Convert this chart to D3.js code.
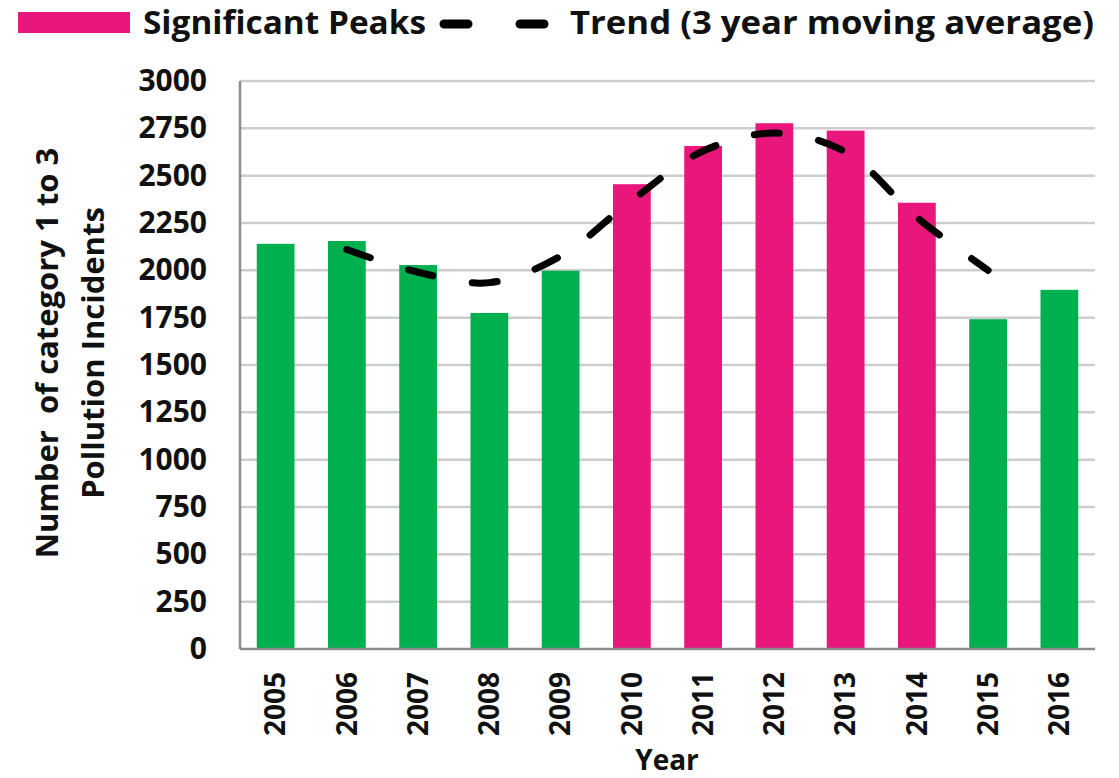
<!DOCTYPE html>
<html>
<head>
<meta charset="utf-8">
<script src="https://cdn.jsdelivr.net/npm/d3@7"></script>
<style>
  body { margin: 0; background: #fff; }
  text { font-family: "Open Sans", Lato, sans-serif; font-weight: bold; fill: #111; }
</style>
</head>
<body>
<div id="chart"></div>
<script>
// data
const years = ["2005", "2006", "2007", "2008", "2009", "2010", "2011", "2012", "2013", "2014", "2015", "2016"];
const incidents = [2140, 2155, 2028, 1775, 1998, 2455, 2657, 2777, 2738, 2357, 1742, 1897];
const peakYears = ["2010", "2011", "2012", "2013", "2014"];
const trendYears = ["2006", "2007", "2008", "2009", "2010", "2011", "2012", "2013", "2014", "2015"];
const trendValues = [2110, 1990, 1935, 2075, 2370, 2630, 2725, 2625, 2280, 2000];
const yTicks = [0, 250, 500, 750, 1000, 1250, 1500, 1750, 2000, 2250, 2500, 2750, 3000];

const svgWidth = 1119, svgHeight = 778;
const marginLeft = 240, marginRight = 24, marginTop = 81, marginBottom = 129;
const width = svgWidth - marginLeft - marginRight;
const height = svgHeight - marginTop - marginBottom;

const green = "#00b04f";
const pink = "#e9177b";
const font = "'Open Sans', Lato, sans-serif";

const svg = d3.select("#chart")
  .append("svg")
  .attr("width", svgWidth)
  .attr("height", svgHeight);

// Scales
const xScale = d3.scaleBand().domain(years).range([0, width]).paddingInner(0.47).paddingOuter(0.235);
const yScale = d3.scaleLinear().domain([0, 3000]).range([height, 0]);

const chart = svg.append("g")
  .attr("transform", `translate(${marginLeft},${marginTop})`);

// gridlines
chart.append("g")
  .selectAll("line")
  .data(yTicks.filter((d) => d > 0))
  .join("line")
  .attr("x1", 0)
  .attr("x2", width)
  .attr("y1", (d) => yScale(d))
  .attr("y2", (d) => yScale(d))
  .attr("stroke", "#cdcdcd")
  .attr("stroke-width", 2.5);

// bars
chart.append("g")
  .selectAll("rect")
  .data(years)
  .join("rect")
  .attr("x", (d) => xScale(d))
  .attr("width", xScale.bandwidth())
  .attr("y", (d, i) => yScale(incidents[i]))
  .attr("height", (d, i) => height - yScale(incidents[i]))
  .attr("fill", (d) => peakYears.includes(d) ? pink : green);

// axes lines
chart.append("line")
  .attr("x1", 0).attr("x2", 0)
  .attr("y1", 0).attr("y2", height)
  .attr("stroke", "#8c8c8c").attr("stroke-width", 2.5);
chart.append("line")
  .attr("x1", 0).attr("x2", width)
  .attr("y1", height).attr("y2", height)
  .attr("stroke", "#8c8c8c").attr("stroke-width", 2.5);

// trend line
const line = d3.line()
  .x((d, i) => xScale(trendYears[i]) + xScale.bandwidth() / 2)
  .y((d) => yScale(d))
  .curve(d3.curveCatmullRom.alpha(0.5));

chart.append("path")
  .datum(trendValues)
  .attr("d", line)
  .attr("fill", "none")
  .attr("stroke", "#000")
  .attr("stroke-width", 7)
  .attr("stroke-linecap", "round")
  .attr("stroke-dasharray", "25 40");

// y axis
const yAxis = chart.append("g")
  .call(d3.axisLeft(yScale).tickValues(yTicks).tickFormat(d3.format("d")).tickSize(0).tickPadding(33))
  .call((g) => g.select(".domain").remove());
yAxis.selectAll("text")
  .style("font-family", font)
  .style("font-size", "30px")
  .style("font-weight", "bold")
  .attr("fill", "#111");

// x axis
const xAxis = chart.append("g")
  .attr("transform", `translate(0,${height})`)
  .call(d3.axisBottom(xScale).tickSize(0).tickPadding(0))
  .call((g) => g.select(".domain").remove());
xAxis.selectAll("text")
  .attr("transform", "rotate(-90)")
  .attr("x", -23)
  .attr("y", 0)
  .attr("dy", "0.35em")
  .style("text-anchor", "end")
  .style("font-family", font)
  .style("font-size", "28px")
  .style("font-weight", "bold")
  .attr("fill", "#111");

// axis titles
svg.append("text")
  .attr("x", 667)
  .attr("y", 770)
  .attr("text-anchor", "middle")
  .style("font-size", "28px")
  .text("Year");

svg.append("text")
  .attr("transform", `translate(47,353) rotate(-90)`)
  .attr("text-anchor", "middle")
  .attr("dy", "0.35em")
  .style("font-size", "31px")
  .style("white-space", "pre")
  .text("Number  of category 1 to 3");

svg.append("text")
  .attr("transform", `translate(93,353) rotate(-90)`)
  .attr("text-anchor", "middle")
  .attr("dy", "0.35em")
  .style("font-size", "31px")
  .text("Pollution Incidents");

// legend
const legend = svg.append("g");
legend.append("rect")
  .attr("x", 18).attr("y", 12)
  .attr("width", 112).attr("height", 21)
  .attr("fill", pink);
legend.append("text")
  .attr("x", 143).attr("y", 34)
  .style("font-size", "33px")
  .attr("textLength", 283)
  .attr("lengthAdjust", "spacingAndGlyphs")
  .text("Significant Peaks");
legend.append("line")
  .attr("x1", 444).attr("x2", 548)
  .attr("y1", 24).attr("y2", 24)
  .attr("stroke", "#000")
  .attr("stroke-width", 9)
  .attr("stroke-linecap", "round")
  .attr("stroke-dasharray", "24 52");
legend.append("text")
  .attr("x", 570).attr("y", 34)
  .style("font-size", "33px")
  .attr("textLength", 524)
  .attr("lengthAdjust", "spacingAndGlyphs")
  .text("Trend (3 year moving average)");
</script>
</body>
</html>
